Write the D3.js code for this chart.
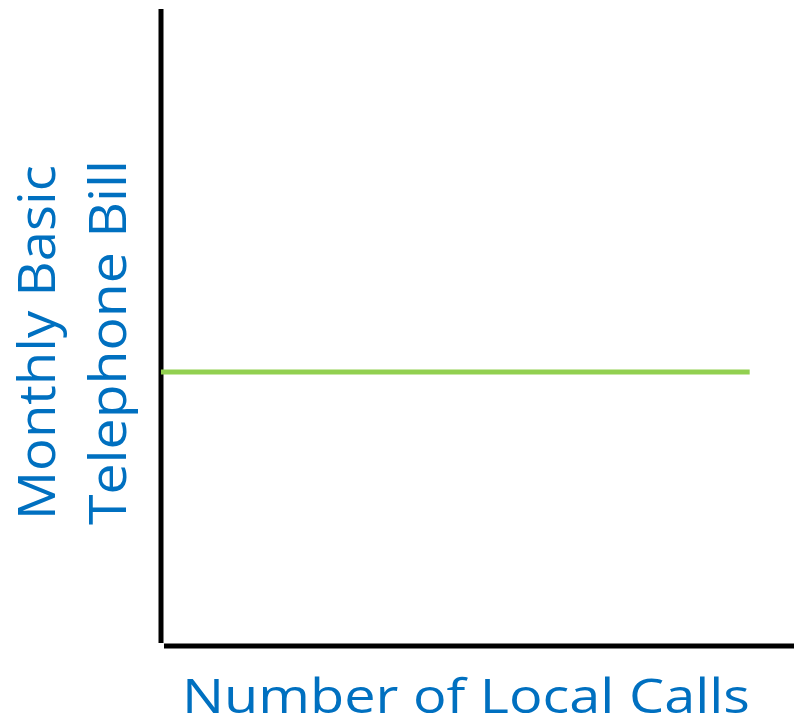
<!DOCTYPE html>
<meta charset="utf-8" />
<style>
    body { margin: 0; background: #fff; }
    .label { fill: #0070c0; font-family: "Open Sans", "DejaVu Sans", sans-serif; }
</style>
<svg width="794" height="728"></svg>
<script src="https://d3js.org/d3.v7.min.js"></script>
<script>
    // data: a flat bill no matter how many local calls
    var calls = [0, 93];
    var bill = [43, 43];
    var xTitle = "Number of Local Calls";
    var yTitle = ["Monthly Basic", "Telephone Bill"];

    var svg = d3.select("svg");

    var x = d3.scaleLinear().domain([0, 100]).range([161, 794]);
    var y = d3.scaleLinear().domain([0, 100]).range([646, 9]);

    // axes drawn as plain thick lines, no ticks
    svg.append("line")
        .attr("x1", x(0)).attr("x2", x(0))
        .attr("y1", y(100)).attr("y2", y(0) - 3)
        .attr("stroke", "#000").attr("stroke-width", 5);

    svg.append("line")
        .attr("x1", x(0) + 3).attr("x2", x(100))
        .attr("y1", y(0)).attr("y2", y(0))
        .attr("stroke", "#000").attr("stroke-width", 5);

    var pts = calls.map(function (c, i) { return [c, bill[i]]; });

    var line = d3.line()
        .x(function (d) { return x(d[0]); })
        .y(function (d) { return y(d[1]); });

    svg.append("path")
        .datum(pts)
        .attr("d", line)
        .attr("fill", "none")
        .attr("stroke", "#92d050")
        .attr("stroke-width", 5);

    // x title
    svg.append("text")
        .attr("class", "label")
        .attr("x", 182).attr("y", 713)
        .attr("font-size", 47)
        .attr("textLength", 568)
        .attr("lengthAdjust", "spacingAndGlyphs")
        .text(xTitle);

    // y title, two rotated lines
    var yx = [55, 126];
    var yLen = [355, 365];
    yTitle.forEach(function (t, i) {
        svg.append("text")
            .attr("class", "label")
            .attr("transform", "translate(" + yx[i] + "," + (i == 0 ? 520 : 525) + ") rotate(-90)")
            .attr("font-size", 52)
            .attr("textLength", yLen[i])
            .attr("lengthAdjust", "spacingAndGlyphs")
            .text(t);
    });
</script>
